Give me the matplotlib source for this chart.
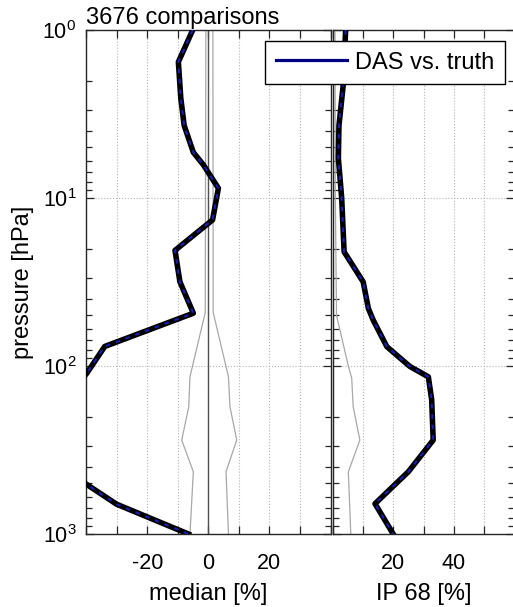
import numpy as np
import matplotlib
matplotlib.use("Agg")
import matplotlib.pyplot as plt
from matplotlib.lines import Line2D

plt.rcParams["font.family"] = ["Liberation Sans", "DejaVu Sans"]
plt.rcParams["mathtext.fontset"] = "custom"
plt.rcParams["mathtext.rm"] = "Liberation Sans"
plt.rcParams["mathtext.it"] = "Liberation Sans:italic"
plt.rcParams["mathtext.bf"] = "Liberation Sans:bold"

title_text = "3676 comparisons"
legend_label = "DAS vs. truth"
median_xlabel = "median [%]"
ip68_xlabel = "IP 68 [%]"
pressure_label = "pressure [hPa]"

# median relative difference profile [%] vs pressure [hPa]
median_p = [1.0, 1.55, 2.55, 3.7, 5.35, 6.35, 8.75, 13.5, 20.5, 31.5, 48.5,
            76.5, 110, 210, 500, 665, 1000]
median_val = [-5.1, -9.8, -9.0, -7.9, -4.9, -1.6, 3.3, 1.4, -10.9, -9.3, -4.9,
              -33.9, -39.7, -52.0, -40.3, -30.0, -6.5]

# 68% interpercentile range profile [%]
ip68_p = [1.0, 2.13, 3.7, 5.8, 10.0, 20.9, 31.6, 45.4, 53.3, 76.7, 100.6,
          116, 159, 276, 426, 660, 1000]
ip68_val = [4.3, 3.5, 2.1, 1.9, 3.0, 3.8, 10.1, 11.8, 13.4, 17.9, 25.5,
            31.6, 32.7, 33.2, 25.0, 14.0, 20.0]

# expected uncertainty envelope around zero for the median
env_p = [1.0, 48, 116, 175, 276, 426, 1000]
env_lo = [-0.8, -1.0, -6.0, -6.4, -8.7, -4.9, -6.0]
env_hi = [1.5, 1.6, 6.6, 7.1, 9.3, 5.8, 6.6]

# expected IP68
ref_ip68_p = [1.0, 10, 50, 100, 118, 175, 276, 426, 1000]
ref_ip68_val = [0.8, 0.9, 1.3, 5.2, 6.3, 6.8, 9.0, 5.2, 6.0]

median_xlim = (-40, 40)
median_labels = [-20, 0, 20]
ip68_xlim = (0, 60)
ip68_labels = [20, 40]

W, H = 513, 607
fig = plt.figure(figsize=(W / 100, H / 100), dpi=100)
ax1 = fig.add_axes([86.1 / W, 1 - 534 / H, 244.4 / W, 504 / H])
ax2 = fig.add_axes([332.6 / W, 1 - 534 / H, 181.8 / W, 504 / H])

spine_col = "#262626"
grid_col = "#b4b4b4"
blue = "#1c1cb0"


def style_axes(ax, xlim, labels):
    ax.set_yscale("log")
    ax.set_ylim(1000, 1)
    ax.set_xlim(*xlim)
    ticks = np.arange(xlim[0], xlim[1] + 1, 10)
    ax.set_xticks(ticks)
    ax.set_xticklabels([str(int(t)) if t in labels else "" for t in ticks])
    ax.tick_params(which="both", direction="in", top=True, right=True,
                   color=spine_col, labelsize=15.5)
    ax.tick_params(axis="x", pad=14)
    ax.tick_params(axis="y", pad=7)
    ax.tick_params(which="major", length=6, width=0.9)
    ax.tick_params(which="minor", length=4, width=0.9)
    ax.grid(True, which="major", linestyle=":", color=grid_col, linewidth=0.8)
    ax.set_axisbelow(True)
    for s in ax.spines.values():
        s.set_color(spine_col)
        s.set_linewidth(1.0)


style_axes(ax1, median_xlim, median_labels)
style_axes(ax2, ip68_xlim, ip68_labels)
ax2.tick_params(labelleft=False)

# left panel: median difference
ax1.axvline(0, color="#505050", lw=1.0, zorder=2)
ax1.plot(env_lo, env_p, color="#a8a8a8", lw=0.9, zorder=2)
ax1.plot(env_hi, env_p, color="#a8a8a8", lw=0.9, zorder=2)
ax1.plot(median_val, median_p, color="black", lw=4.0, zorder=3)
ax1.plot(median_val, median_p, color=blue, lw=1.5, dashes=(2.2, 2.8), zorder=4)

# right panel: spread
ax2.plot(ref_ip68_val, ref_ip68_p, color="#a8a8a8", lw=0.9, zorder=2)
ax2.plot(ip68_val, ip68_p, color="black", lw=4.0, zorder=3)
ax2.plot(ip68_val, ip68_p, color=blue, lw=1.5, dashes=(2.2, 2.8), zorder=4)

ax1.set_title(title_text, loc="left", fontsize=17, pad=4)
ax1.set_xlabel(median_xlabel, fontsize=17, labelpad=6)
ax2.set_xlabel(ip68_xlabel, fontsize=17, labelpad=6)
ax1.set_ylabel(pressure_label, fontsize=17, labelpad=6)

handle = Line2D([0], [0], color="#000080", lw=2.3)
leg = fig.legend(handles=[handle], labels=[legend_label], loc="upper right",
                 bbox_to_anchor=(505 / W, 1 - 41 / H), bbox_transform=fig.transFigure,
                 frameon=True, fancybox=False, edgecolor="black", framealpha=1,
                 fontsize=17, handlelength=3.0, handletextpad=0.35,
                 borderpad=0.45, borderaxespad=0)
leg.get_frame().set_linewidth(1.0)

fig.savefig("out.png", dpi=100)
